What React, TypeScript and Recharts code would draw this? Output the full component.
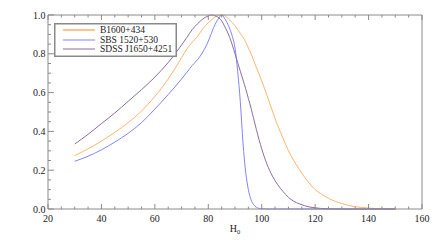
import React from 'react';
import { LineChart, Line, XAxis, YAxis, Legend } from 'recharts';

const hValues = [30, 35, 40, 45, 50, 55, 60, 65, 70, 72, 74, 76, 78, 80, 81, 82, 84, 85, 86, 88, 89, 90, 91, 92, 93, 94, 95, 96, 97, 98, 100, 102, 104, 106, 108, 110, 112, 114, 116, 118, 120, 122, 125, 130, 135, 140, 145, 150];

const b1600 = [0.275, 0.31, 0.35, 0.395, 0.445, 0.505, 0.58, 0.67, 0.78, 0.825, 0.86, 0.89, 0.93, 0.96, 0.972, 0.985, 0.998, 1.0, 0.997, 0.975, 0.96, 0.945, 0.925, 0.905, 0.885, 0.86, 0.83, 0.8, 0.765, 0.73, 0.66, 0.585, 0.505, 0.43, 0.365, 0.3, 0.25, 0.205, 0.165, 0.13, 0.1, 0.08, 0.055, 0.028, 0.012, 0.005, 0.001, 0];

const sbs1520 = [0.246, 0.272, 0.305, 0.345, 0.39, 0.445, 0.515, 0.59, 0.67, 0.705, 0.74, 0.77, 0.81, 0.865, 0.9, 0.935, 0.985, 1.0, 0.985, 0.93, 0.89, 0.83, 0.71, 0.55, 0.34, 0.19, 0.1, 0.048, 0.022, 0.009, 0.001, 0, 0, 0, 0, 0, 0, 0, 0, 0, 0, 0, 0, 0, 0, 0, 0, 0];

const sdss1650 = [0.335, 0.385, 0.44, 0.495, 0.555, 0.615, 0.68, 0.755, 0.845, 0.885, 0.925, 0.955, 0.98, 0.995, 1.0, 0.998, 0.985, 0.97, 0.945, 0.885, 0.845, 0.8, 0.755, 0.71, 0.665, 0.62, 0.57, 0.52, 0.465, 0.41, 0.31, 0.23, 0.17, 0.125, 0.09, 0.06, 0.04, 0.027, 0.017, 0.01, 0.006, 0.003, 0.001, 0, 0, 0, 0, 0];

const seriesNames = ['B1600+434', 'SBS 1520+530', 'SDSS J1650+4251'];
const seriesColors = ['#FFB46E', '#8383FF', '#8C6E9C'];

const xTicks = [20, 25, 30, 35, 40, 45, 50, 55, 60, 65, 70, 75, 80, 85, 90, 95, 100, 105, 110, 115, 120, 125, 130, 135, 140, 145, 150, 155, 160];
const yTicks = [0, 0.05, 0.1, 0.15, 0.2, 0.25, 0.3, 0.35, 0.4, 0.45, 0.5, 0.55, 0.6, 0.65, 0.7, 0.75, 0.8, 0.85, 0.9, 0.95, 1.0];

const data = hValues.map((h, i) => ({
  h,
  b1600: b1600[i],
  sbs: sbs1520[i],
  sdss: sdss1650[i],
}));

const FRAME = '#8a8a8a';
const TEXT = '#222';
const FONT = '"Liberation Serif", "Times New Roman", serif';

const isMajorX = (v: number) => Math.abs(v % 20) < 1e-6;
const isMajorY = (v: number) => Math.abs(Math.round(v * 10) - v * 10) < 1e-6 && Math.round(v * 10) % 2 === 0;

const BottomTick = (props: any) => {
  const { x, y, payload } = props;
  const v = payload.value;
  const major = isMajorX(v);
  return (
    <g>
      <path d={`M${x},${y}V${y - (major ? 5 : 2.5)}`} stroke={FRAME} strokeWidth={1} fill="none" />
      {major && (
        <text x={x} y={y + 12.5} textAnchor="middle" fontSize={10} fontFamily={FONT} fill={TEXT}>
          {v}
        </text>
      )}
    </g>
  );
};

const TopTick = (props: any) => {
  const { x, y, payload } = props;
  const major = isMajorX(payload.value);
  return <path d={`M${x},${y}V${y + (major ? 5 : 2.5)}`} stroke={FRAME} strokeWidth={1} fill="none" />;
};

const LeftTick = (props: any) => {
  const { x, y, payload } = props;
  const v = payload.value;
  const major = isMajorY(v);
  return (
    <g>
      <path d={`M${x},${y}H${x + (major ? 6 : 3)}`} stroke={FRAME} strokeWidth={1} fill="none" />
      {major && (
        <text x={x - 2.5} y={y + 3.5} textAnchor="end" fontSize={10} fontFamily={FONT} fill={TEXT}>
          {v.toFixed(1)}
        </text>
      )}
    </g>
  );
};

const RightTick = (props: any) => {
  const { x, y, payload } = props;
  const major = isMajorY(payload.value);
  return <path d={`M${x},${y}H${x - (major ? 6 : 3)}`} stroke={FRAME} strokeWidth={1} fill="none" />;
};

const XLabel = (props: any) => {
  const vb = props.viewBox || {};
  const cx = (vb.x ?? 0) + (vb.width ?? 0) / 2;
  return (
    <text x={cx} y={231.5} fontSize={10} fontFamily={FONT} fill={TEXT} textAnchor="middle">
      H
      <tspan fontSize={6.5} dy={2}>0</tspan>
    </text>
  );
};

const LegendBox = () => {
  const rows = [7, 17, 26];
  return (
    <svg width={123} height={34} style={{ display: 'block' }}>
      <rect x={0.75} y={0.75} width={121.5} height={32.5} fill="#fff" stroke={FRAME} strokeWidth={1.5} />
      {seriesNames.map((name, i) => (
        <g key={name}>
          <line x1={9} x2={41} y1={rows[i]} y2={rows[i]} stroke={seriesColors[i]} strokeWidth={i === 0 ? 1.6 : 1} />
          <text x={46} y={rows[i] + 3.3} fontSize={9.5} fontFamily={FONT} fill={TEXT}>
            {name}
          </text>
        </g>
      ))}
    </svg>
  );
};

export default function App() {
  return (
    <div style={{ position: 'absolute', left: 0, top: 0 }}>
      <LineChart width={436} height={240} data={data} margin={{ top: 14, right: 13, left: 0, bottom: 0 }}>
        <XAxis
          xAxisId="bottom"
          dataKey="h"
          type="number"
          domain={[20, 160]}
          ticks={xTicks}
          interval={0}
          height={31}
          tickSize={0}
          tickMargin={0}
          tickLine={false}
          axisLine={{ stroke: FRAME }}
          tick={BottomTick}
          label={<XLabel />}
        />
        <XAxis
          xAxisId="top"
          orientation="top"
          dataKey="h"
          type="number"
          domain={[20, 160]}
          ticks={xTicks}
          interval={0}
          height={1}
          tickSize={0}
          tickMargin={0}
          tickLine={false}
          axisLine={{ stroke: FRAME }}
          tick={TopTick}
        />
        <YAxis
          yAxisId="left"
          type="number"
          domain={[0, 1]}
          ticks={yTicks}
          interval={0}
          width={48}
          tickSize={0}
          tickMargin={0}
          tickLine={false}
          axisLine={{ stroke: FRAME }}
          tick={LeftTick}
        />
        <YAxis
          yAxisId="right"
          orientation="right"
          type="number"
          domain={[0, 1]}
          ticks={yTicks}
          interval={0}
          width={1}
          tickSize={0}
          tickMargin={0}
          tickLine={false}
          axisLine={{ stroke: FRAME }}
          tick={RightTick}
        />
        <Legend
          layout="vertical"
          align="center"
          verticalAlign="middle"
          wrapperStyle={{ position: 'absolute', left: 54, top: 23, width: 123, height: 34 }}
          content={<LegendBox />}
        />
        <Line xAxisId="bottom" yAxisId="left" type="monotone" dataKey="b1600" name={seriesNames[0]} stroke={seriesColors[0]} strokeWidth={1} dot={false} isAnimationActive={false} />
        <Line xAxisId="bottom" yAxisId="left" type="monotone" dataKey="sbs" name={seriesNames[1]} stroke={seriesColors[1]} strokeWidth={1} dot={false} isAnimationActive={false} />
        <Line xAxisId="bottom" yAxisId="left" type="monotone" dataKey="sdss" name={seriesNames[2]} stroke={seriesColors[2]} strokeWidth={1} dot={false} isAnimationActive={false} />
      </LineChart>
    </div>
  );
}
